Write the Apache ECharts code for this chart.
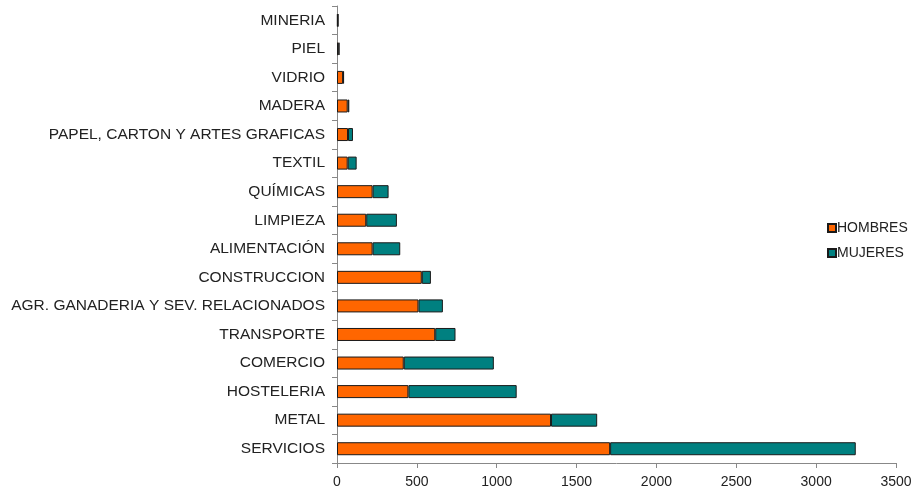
<!DOCTYPE html>
<html>
<head>
<meta charset="utf-8">
<script src="https://cdn.jsdelivr.net/npm/echarts@6/dist/echarts.min.js"></script>
<style>
  html, body { margin: 0; padding: 0; background: #fff; }
  #main { width: 917px; height: 493px; }
</style>
</head>
<body>
<div id="main"></div>
<script>
// categories bottom -> top
const sectores = [
  'SERVICIOS', 'METAL', 'HOSTELERIA', 'COMERCIO', 'TRANSPORTE',
  'AGR. GANADERIA Y SEV. RELACIONADOS', 'CONSTRUCCION', 'ALIMENTACIÓN',
  'LIMPIEZA', 'QUÍMICAS', 'TEXTIL', 'PAPEL, CARTON Y ARTES GRAFICAS',
  'MADERA', 'VIDRIO', 'PIEL', 'MINERIA'
]
const hombres = [1710, 1340, 447, 418, 615, 510, 531, 223, 183, 223, 67, 69, 67, 38, 10, 5]
const mujeres = [1538, 289, 678, 564, 127, 153, 57, 173, 192, 100, 56, 31, 10, 6, 5, 3]
const xTicks = { min: 0, max: 3500, interval: 500 }

const chart = echarts.init(document.getElementById('main'))

const barStyle = (color) => ({
  color: color,
  borderColor: '#1a1a1a',
  borderWidth: 1
})

chart.setOption({
  animation: false,
  textStyle: { fontFamily: 'Liberation Sans, Arial, sans-serif' },
  grid: { left: 337, right: 21, top: 6, bottom: 30, containLabel: false },
  legend: {
    orient: 'vertical',
    left: 822,
    top: 216,
    itemWidth: 8,
    itemHeight: 8,
    itemGap: 11,
    icon: 'rect',
    textStyle: { fontSize: 14, color: '#222', padding: [0, 0, 0, -4] },
    data: ['HOMBRES', 'MUJERES']
  },
  xAxis: {
    type: 'value',
    min: xTicks.min,
    max: xTicks.max,
    interval: xTicks.interval,
    splitLine: { show: false },
    axisLine: { show: true, lineStyle: { color: '#888' } },
    axisTick: { show: true, length: 5, lineStyle: { color: '#888' } },
    axisLabel: { fontSize: 14, color: '#222', margin: 12, formatter: (v) => String(v) }
  },
  yAxis: {
    type: 'category',
    data: sectores,
    axisLine: { show: true, lineStyle: { color: '#888' } },
    axisTick: { show: true, length: 5, lineStyle: { color: '#888' } },
    axisLabel: { fontSize: 15.5, color: '#222', margin: 12 }
  },
  series: [{
    name: 'HOMBRES',
    type: 'bar',
    stack: 'total',
    barWidth: 13,
    data: hombres,
    itemStyle: barStyle('#ff6600')
  }, {
    name: 'MUJERES',
    type: 'bar',
    stack: 'total',
    barWidth: 13,
    data: mujeres,
    itemStyle: barStyle('#008080')
  }]
})
</script>
</body>
</html>
